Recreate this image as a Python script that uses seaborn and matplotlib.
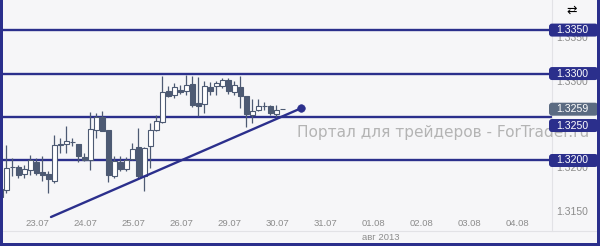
import matplotlib
matplotlib.use("Agg")
import matplotlib.pyplot as plt
import seaborn as sns
import pandas as pd
from matplotlib.patches import FancyBboxPatch, Rectangle
from matplotlib.transforms import ScaledTranslation

# ---------------- data ----------------
opens = [1.3167, 1.3166, 1.3193, 1.3193, 1.3184, 1.3189, 1.3198, 1.3187, 1.3184, 1.3176,
         1.3218, 1.3219, 1.3221, 1.3219, 1.3204, 1.3200, 1.3235, 1.3250, 1.3235, 1.3182,
         1.3198, 1.3190, 1.3202, 1.3216, 1.3182, 1.3217, 1.3235, 1.3244, 1.3280, 1.3275,
         1.3281, 1.3280, 1.3288, 1.3266, 1.3265, 1.3285, 1.3286, 1.3286, 1.3293, 1.3279,
         1.3285, 1.3274, 1.3252, 1.3258, 1.3263, 1.3263, 1.3254, 1.3259]
highs = [1.3170, 1.3218, 1.3203, 1.3195, 1.3195, 1.3206, 1.3203, 1.3205, 1.3188, 1.3229,
         1.3226, 1.3240, 1.3226, 1.3219, 1.3209, 1.3256, 1.3255, 1.3257, 1.3235, 1.3205,
         1.3205, 1.3204, 1.3220, 1.3237, 1.3216, 1.3243, 1.3252, 1.3297, 1.3286, 1.3289,
         1.3287, 1.3298, 1.3297, 1.3296, 1.3291, 1.3290, 1.3291, 1.3295, 1.3295, 1.3291,
         1.3297, 1.3274, 1.3271, 1.3271, 1.3267, 1.3264, 1.3264, 1.3259]
lows = [1.3155, 1.3163, 1.3182, 1.3180, 1.3180, 1.3183, 1.3183, 1.3176, 1.3163, 1.3174,
        1.3209, 1.3209, 1.3217, 1.3198, 1.3199, 1.3189, 1.3226, 1.3234, 1.3175, 1.3180,
        1.3188, 1.3188, 1.3201, 1.3180, 1.3165, 1.3191, 1.3234, 1.3243, 1.3273, 1.3272,
        1.3276, 1.3275, 1.3262, 1.3251, 1.3255, 1.3275, 1.3275, 1.3283, 1.3276, 1.3275,
        1.3260, 1.3239, 1.3243, 1.3257, 1.3258, 1.3252, 1.3249, 1.3259]
closes = [1.3158, 1.3191, 1.3192, 1.3183, 1.3190, 1.3200, 1.3186, 1.3183, 1.3179, 1.3218,
          1.3219, 1.3222, 1.3221, 1.3205, 1.3200, 1.3236, 1.3250, 1.3234, 1.3183, 1.3199,
          1.3190, 1.3201, 1.3213, 1.3182, 1.3214, 1.3235, 1.3245, 1.3279, 1.3274, 1.3285,
          1.3279, 1.3287, 1.3264, 1.3263, 1.3286, 1.3280, 1.3289, 1.3293, 1.3280, 1.3287,
          1.3274, 1.3253, 1.3257, 1.3263, 1.3263, 1.3255, 1.3258, 1.3259]

day_labels = ["23.07", "24.07", "25.07", "26.07", "29.07", "30.07",
              "31.07", "01.08", "02.08", "03.08", "04.08"]
month_label = "авг 2013"
level_values = [1.3350, 1.3300, 1.3250, 1.3200]
level_labels = ["1.3350", "1.3300", "1.3250", "1.3200"]
current_price = 1.3259
current_label = "1.3259"
price_ticks = [1.3150, 1.3200, 1.3250, 1.3300, 1.3350]
price_tick_labels = ["1.3150", "1.3200", "1.3250", "1.3300", "1.3350"]
trend_x = [8.45, 50.1]
trend_y = [1.3135, 1.3260]
watermark = "Портал для трейдеров - ForTrader.ru"

# ---------------- style ----------------
W, H, DPI = 600, 246, 100
sns.set_theme(style="white")
plt.rcParams["font.family"] = ["DejaVu Sans"]

BG = "#f6f6f8"
NAVY = "#2b2f8c"
CANDLE = "#4d5a73"
GRAYTXT = "#8c8c8c"

fig = plt.figure(figsize=(W / DPI, H / DPI), dpi=DPI, facecolor=BG)
plot_right_px = 552
plot_bottom_px = 231
ax = fig.add_axes([0, (H - plot_bottom_px) / H, plot_right_px / W, plot_bottom_px / H])
ax.set_facecolor(BG)

df = pd.DataFrame({"open": opens, "high": highs, "low": lows, "close": closes})
df["idx"] = range(len(df))
df["bull"] = df["close"] >= df["open"]

px_per_bar = 6.0
ax.set_xlim(-0.05, -0.05 + plot_right_px / px_per_bar)
ax.set_ylim(1.31189, 1.33846)

# horizontal levels
for lv in level_values:
    ax.axhline(lv, color=NAVY, lw=1.7, zorder=2)

# candles
body_w = 0.75
ax.vlines(df["idx"], df["low"], df["high"], color=CANDLE, lw=0.9, zorder=3)
bull = df[df["bull"]]
bear = df[~df["bull"]]
ax.bar(bull["idx"], bull["close"] - bull["open"], bottom=bull["open"], width=body_w,
       facecolor="white", edgecolor=CANDLE, linewidth=0.8, zorder=4)
ax.bar(bear["idx"], bear["close"] - bear["open"], bottom=bear["open"], width=body_w,
       facecolor=CANDLE, edgecolor=CANDLE, linewidth=0.8, zorder=4)

# trend line
tdf = pd.DataFrame({"x": trend_x, "y": trend_y})
sns.lineplot(data=tdf, x="x", y="y", ax=ax, color=NAVY, lw=1.7, zorder=5)
sns.scatterplot(data=tdf.iloc[[-1]], x="x", y="y", ax=ax, color=NAVY, s=30,
                edgecolor=NAVY, zorder=6)

# x ticks (day labels) inside plot
bars_per_day = 8
first_pos = 6.2
xt = [first_pos + bars_per_day * j for j in range(len(day_labels))]
ax.set_xticks(xt, day_labels)
ax.tick_params(axis="x", length=0, pad=-8.3, labelsize=6.8, labelcolor=GRAYTXT)
for t in ax.get_xticklabels():
    t.set_family("Liberation Sans")

# y ticks on the right (partly hidden under level tags)
ax.yaxis.tick_right()
ax.set_yticks(price_ticks, price_tick_labels)
ax.tick_params(axis="y", length=0, pad=3, labelsize=7.5, labelcolor=GRAYTXT)
for t in ax.get_yticklabels():
    t.set_family("Liberation Sans")
    t.set_horizontalalignment("left")
    t.set_transform(t.get_transform() + ScaledTranslation(0, -7 / DPI, fig.dpi_scale_trans))
ax.set_xlabel("")
ax.set_ylabel("")

for side in ["top", "left"]:
    ax.spines[side].set_visible(False)
ax.spines["right"].set_color("#e2e2e6")
ax.spines["bottom"].set_visible(False)
ax.spines["right"].set_linewidth(0.8)

# month label
fig.text(362 / W, 1 - 238 / H, month_label, color=GRAYTXT, fontsize=6.8,
         family="Liberation Sans", va="center", ha="left")

# separator above month label
fig.add_artist(plt.Line2D([3 / W, 597 / W], [1 - 231 / H] * 2, color="#e2e2e6",
                          lw=0.8, transform=fig.transFigure))

# watermark (behind the price tags, as in the reference)
fig.text(297 / W, 1 - 137 / H, watermark, color="#b4b4b4", fontsize=11.1,
         va="baseline", ha="left", zorder=1)

# price tags
fig.canvas.draw()


def y_px(price):
    return ax.transData.transform((0, price))[1]


tag_x0, tag_x1 = 549, 598
tag_h = 13


def tag(price, text, color, shift=0):
    yc = y_px(price) - shift
    box = FancyBboxPatch((tag_x0, yc - tag_h / 2), tag_x1 - tag_x0, tag_h,
                         boxstyle="round,pad=0,rounding_size=3", transform=None,
                         facecolor=color, edgecolor="none", zorder=10)
    fig.add_artist(box)
    fig.text(556 / W, yc / H, text, color="white", fontsize=7.6, family="Liberation Sans",
             va="center", ha="left", zorder=11)


for lv, lab in zip(level_values, level_labels):
    tag(lv, lab, NAVY, shift=8.5 if abs(lv - current_price) < 0.002 else 0)
tag(current_price, current_label, "#5b6b82")

# top-right icon
fig.text(572 / W, 1 - 10 / H, "⇄", color="black", fontsize=9, ha="center", va="center")

# outer border (left, right, bottom)
for (x0, y0, w, h) in [(0, 0, 3, H), (597, 0, 3, H), (0, 0, W, 3)]:
    fig.add_artist(Rectangle((x0 / W, y0 / H), w / W, h / H, transform=fig.transFigure,
                             facecolor=NAVY, edgecolor="none", zorder=20))

fig.savefig("out.png", dpi=DPI, facecolor=BG)
